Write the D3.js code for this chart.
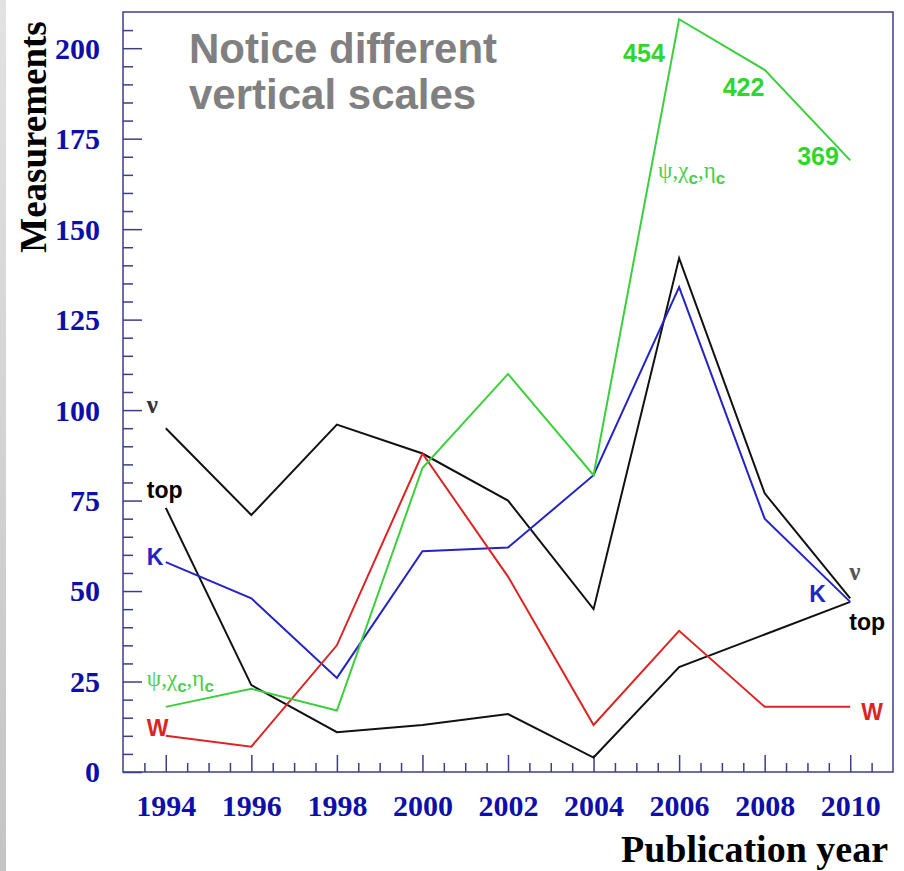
<!doctype html>
<html lang="en">
<head>
  <meta charset="utf-8">
  <title>Measurements by publication year</title>
  <script src="https://d3js.org/d3.v7.min.js"></script>
  <style>
    body { margin:0; background:#fff; }
    svg { display:block; }
    .serif { font-family:"Liberation Serif", "DejaVu Serif", serif; font-weight:bold; }
    .sans { font-family:"Liberation Sans", Arial, sans-serif; }
  </style>
</head>
<body>
<div id="chart"></div>
<script>
// data
var years = [1994, 1996, 1998, 2000, 2002, 2004, 2006, 2008, 2010];
var nuValues = [95, 71, 96, 88, 75, 45, 142, 77, 48];
var topValues = [73, 24, 11, 13, 16, 4, 29, 38, 47];
var kaonValues = [58, 48, 26, 61, 62, 82, 134, 70, 47];
var wValues = [10, 7, 35, 88, 54, 13, 39, 18, 18];
// charmonium is drawn on a compressed scale, true counts written next to the last points
var psiValues = [18, 23, 17, 84, 110, 82, 208, 194, 169];
var psiCountYears = [2006, 2008, 2010];
var psiCounts = [454, 422, 369];
var xTicks = [1994, 1996, 1998, 2000, 2002, 2004, 2006, 2008, 2010];
var yTicks = [0, 25, 50, 75, 100, 125, 150, 175, 200];

var width = 904, height = 871;
// (window.top is read-only, so don't call these left/top)
var plotLeft = 123, plotRight = 893, plotTop = 12, plotBottom = 772;
var axisColor = "#3c3c8a", labelColor = "#0e0eaa";

var svg = d3.select("#chart").append("svg")
  .attr("width", width)
  .attr("height", height);

// grey slide edge on the left
var grad = svg.append("defs").append("linearGradient")
  .attr("id", "edge").attr("x1", 0).attr("x2", 0).attr("y1", 0).attr("y2", 1);
grad.append("stop").attr("offset", "0%").attr("stop-color", "#e2e2e2");
grad.append("stop").attr("offset", "100%").attr("stop-color", "#c4c4c4");
svg.append("rect").attr("x", 0).attr("y", 0).attr("width", 6).attr("height", height).attr("fill", "url(#edge)");

var x = d3.scaleLinear().domain([1993, 2011]).range([plotLeft, plotRight]);
var y = d3.scaleLinear().domain([0, 210]).range([plotBottom, plotTop]);

// minor ticks
var xMinor = d3.range(1993.5, 2011, 0.5).filter(function(d){ return d % 2 !== 0; });
var yMinor = d3.range(5, 210, 5).filter(function(d){ return d % 25 !== 0; });

var gxMinor = svg.append("g").attr("transform", "translate(0," + plotBottom + ")")
  .call(d3.axisBottom(x).tickValues(xMinor).tickSize(-9).tickFormat(""));
var gx = svg.append("g").attr("transform", "translate(0," + plotBottom + ")")
  .call(d3.axisBottom(x).tickValues(xTicks).tickSize(-17).tickFormat(d3.format("d")));
var gyMinor = svg.append("g").attr("transform", "translate(" + plotLeft + ",0)")
  .call(d3.axisLeft(y).tickValues(yMinor).tickSize(-10).tickFormat(""));
var gy = svg.append("g").attr("transform", "translate(" + plotLeft + ",0)")
  .call(d3.axisLeft(y).tickValues(yTicks).tickSize(-19));

[gxMinor, gx, gyMinor, gy].forEach(function(g){
  g.select(".domain").remove();
  g.selectAll("line").attr("stroke", axisColor).attr("stroke-width", 1.5);
});

gx.selectAll("text")
  .attr("class", "serif")
  .attr("font-size", 30)
  .attr("fill", labelColor)
  .attr("dy", null)
  .attr("y", 44);

gy.selectAll("text")
  .attr("class", "serif")
  .attr("font-size", 30)
  .attr("fill", labelColor)
  .attr("x", -23)
  .attr("dy", "0.33em");

// frame
svg.append("rect")
  .attr("x", plotLeft).attr("y", plotTop)
  .attr("width", plotRight - plotLeft).attr("height", plotBottom - plotTop)
  .attr("fill", "none").attr("stroke", axisColor).attr("stroke-width", 1.5);

// axis titles
svg.append("text")
  .attr("class", "serif")
  .attr("transform", "translate(46,137) rotate(-90)")
  .attr("text-anchor", "middle")
  .attr("font-size", 37)
  .attr("fill", "#000")
  .text("Measurements");

svg.append("text")
  .attr("class", "serif")
  .attr("x", 888).attr("y", 862)
  .attr("text-anchor", "end")
  .attr("font-size", 38)
  .attr("fill", "#000")
  .text("Publication year");

// note
var note = svg.append("text")
  .attr("class", "sans")
  .attr("font-weight", "bold")
  .attr("font-size", 42)
  .attr("fill", "#808080");
note.append("tspan").attr("x", 189).attr("y", 63).text("Notice different");
note.append("tspan").attr("x", 189).attr("y", 109).text("vertical scales");

// series
var line = d3.line()
  .x(function(d){ return x(d[0]); })
  .y(function(d){ return y(d[1]); });

var series = [
  { values: nuValues, color: "#111" },
  { values: topValues, color: "#111" },
  { values: kaonValues, color: "#2424c4" },
  { values: wValues, color: "#dc2424" },
  { values: psiValues, color: "#3ccf3c" }
];

svg.selectAll(".series")
  .data(series)
  .enter().append("path")
  .attr("class", "series")
  .attr("fill", "none")
  .attr("stroke", function(d){ return d.color; })
  .attr("stroke-width", 2)
  .attr("d", function(d){ return line(years.map(function(yr, i){ return [yr, d.values[i]]; })); });

// line labels
function label(px, py, txt, color, size, cls) {
  return svg.append("text")
    .attr("class", cls)
    .attr("x", px).attr("y", py)
    .attr("font-size", size)
    .attr("fill", color)
    .text(txt);
}

var x0 = x(1994) - 19, xe = x(2010);
label(x0, 413, "ν", "#333", 25, "serif").attr("font-weight", "normal");
label(xe - 1, 580, "ν", "#555", 25, "serif").attr("font-weight", "normal");
label(x0, 498, "top", "#000", 23, "sans").attr("font-weight", "bold");
label(xe - 1, 630, "top", "#000", 23, "sans").attr("font-weight", "bold");
label(x0, 565, "K", "#2424c4", 23, "sans").attr("font-weight", "bold");
label(xe - 41, 602, "K", "#2424c4", 23, "sans").attr("font-weight", "bold");
label(x0, 736, "W", "#dc2424", 23, "sans").attr("font-weight", "bold");
label(xe + 11, 720, "W", "#dc2424", 23, "sans").attr("font-weight", "bold");

function psiLabel(px, py) {
  var t = svg.append("text")
    .attr("x", px).attr("y", py)
    .attr("fill", "#4ccc4c")
    .attr("font-family", "'Liberation Serif', 'DejaVu Serif', serif")
    .attr("font-size", 23);
  t.append("tspan").text("ψ,χ");
  t.append("tspan").attr("dy", 6).attr("font-family", "'Liberation Sans', Arial, sans-serif")
    .attr("font-weight", "bold").attr("font-size", 17).text("c");
  t.append("tspan").attr("dy", -6).text(",η");
  t.append("tspan").attr("dy", 6).attr("font-family", "'Liberation Sans', Arial, sans-serif")
    .attr("font-weight", "bold").attr("font-size", 17).text("c");
}
psiLabel(x0, 686);
psiLabel(x(2006) - 21, 178);

// true charmonium counts
var countOffsets = [[-56, 62], [-42, 96], [-53, 165]];
svg.selectAll(".count")
  .data(psiCounts)
  .enter().append("text")
  .attr("class", "count sans")
  .attr("font-weight", "bold")
  .attr("font-size", 25)
  .attr("fill", "#2ed62e")
  .attr("x", function(d, i){ return x(psiCountYears[i]) + countOffsets[i][0]; })
  .attr("y", function(d, i){ return countOffsets[i][1]; })
  .text(function(d){ return d; });
</script>
</body>
</html>
